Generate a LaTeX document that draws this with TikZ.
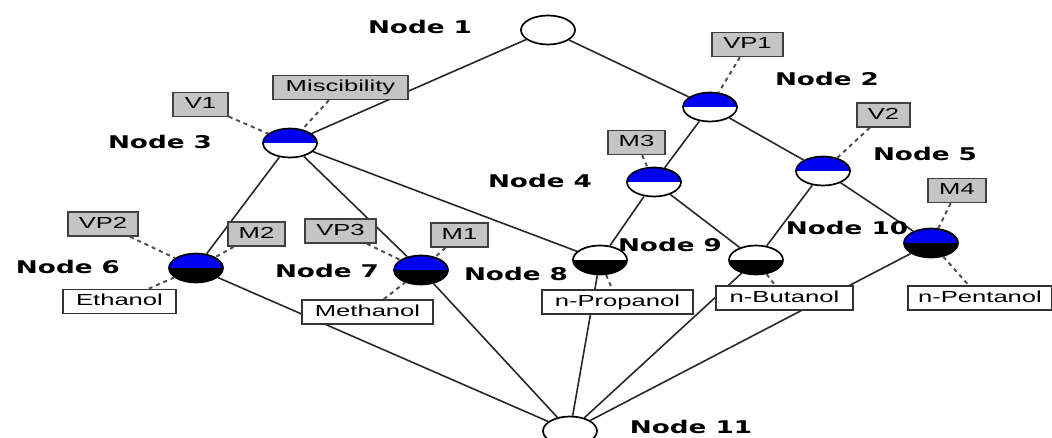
\documentclass[tikz,border=0pt]{standalone}
\usepackage{graphicx}
\usepackage{fontspec}
\setmainfont{Liberation Sans}
\newfontfamily\lblfont{DejaVu Sans}
\usetikzlibrary{shapes.geometric}
\definecolor{nblue}{RGB}{0,0,240}
\definecolor{boxgray}{RGB}{196,196,196}
\definecolor{edgecol}{RGB}{40,40,40}
\definecolor{dashcol}{RGB}{80,80,80}
\newcommand\nlab[1]{\scalebox{1.5}[1]{\lblfont\bfseries\fontsize{17.5}{20}\selectfont #1}}
\newcommand\btxt[1]{\scalebox{1.6}[1]{\fontsize{16}{19}\selectfont #1}}
\tikzset{
  halfnode/.style 2 args={ellipse, draw=black, line width=1.7pt,
    minimum width=54pt, minimum height=29pt, inner sep=0pt,
    path picture={
      \fill[#1] (path picture bounding box.north west) rectangle (path picture bounding box.east);
      \fill[#2] (path picture bounding box.west) rectangle (path picture bounding box.south east);
    }},
  plainnode/.style={ellipse, draw=black, line width=1.7pt, fill=white,
    minimum width=54pt, minimum height=29pt, inner sep=0pt},
  edge/.style={draw=edgecol, line width=1.6pt},
  dashlink/.style={draw=dashcol, line width=2pt, dash pattern=on 4pt off 4pt},
  graybox/.style={draw=black!75, line width=1.6pt, fill=boxgray, inner xsep=0pt, inner ysep=0pt,
    minimum height=24pt, text height=11.5pt, text depth=3pt},
  whitebox/.style={draw=black!80, line width=1.6pt, fill=white, inner xsep=0pt, inner ysep=0pt,
    minimum height=24pt, text height=11.5pt, text depth=3pt},
  nodelabel/.style={inner sep=0pt}
}
\begin{document}
\begin{tikzpicture}[x=1pt,y=-1pt]
\useasboundingbox (0,0) rectangle (1052,438);
\clip (0,0) rectangle (1052,438);
\fill[white] (0,0) rectangle (1052,438);
% lattice nodes
\node[plainnode] (n1) at (548,30) {};
\node[halfnode={nblue}{white}] (n2) at (710,107) {};
\node[halfnode={nblue}{white}] (n3) at (290,143) {};
\node[halfnode={nblue}{white}] (n4) at (654,182) {};
\node[halfnode={nblue}{white}] (n5) at (823,171) {};
\node[halfnode={nblue}{black}] (n6) at (196,268) {};
\node[halfnode={nblue}{black}] (n7) at (421,270) {};
\node[halfnode={white}{black}] (n8) at (600,260) {};
\node[halfnode={white}{black}] (n9) at (756,260) {};
\node[halfnode={nblue}{black}] (n10) at (931,243) {};
\node[plainnode] (n11) at (570,431) {};
% solid edges
\draw[edge] (n1) -- (n3);
\draw[edge] (n1) -- (n2);
\draw[edge] (n2) -- (n4);
\draw[edge] (n2) -- (n5);
\draw[edge] (n3) -- (n6);
\draw[edge] (n3) -- (n7);
\draw[edge] (n3) -- (n8);
\draw[edge] (n4) -- (n8);
\draw[edge] (n4) -- (n9);
\draw[edge] (n5) -- (n9);
\draw[edge] (n5) -- (n10);
\draw[edge] (n6) -- (n11);
\draw[edge] (n7) -- (n11);
\draw[edge] (n8) -- (n11);
\draw[edge] (n9) -- (n11);
\draw[edge] (n10) -- (n11);
% gray attribute boxes
\node[graybox, minimum width=135pt] (misc) at (340.5,87.5) {\btxt{Miscibility}};
\node[graybox, minimum width=71pt] (vp1) at (747.5,44.5) {\btxt{VP1}};
\node[graybox, minimum width=53pt] (v2) at (883.5,115) {\btxt{V2}};
\node[graybox, minimum width=57pt] (m3) at (636.5,142.5) {\btxt{M3}};
\node[graybox, minimum width=58pt] (m4) at (957,190.5) {\btxt{M4}};
\node[graybox, minimum width=55pt] (v1) at (200.5,104.5) {\btxt{V1}};
\node[graybox, minimum width=70pt] (vp2) at (103,224) {\btxt{VP2}};
\node[graybox, minimum width=57pt] (m2) at (256.5,234) {\btxt{M2}};
\node[graybox, minimum width=71pt] (vp3) at (340.5,231) {\btxt{VP3}};
\node[graybox, minimum width=57pt] (m1) at (459.5,235) {\btxt{M1}};
% white object boxes
\node[whitebox, minimum width=113pt] (eth) at (119.5,301.5) {\btxt{Ethanol}};
\node[whitebox, minimum width=131pt] (meth) at (367.5,312) {\btxt{Methanol}};
\node[whitebox, minimum width=151pt] (prop) at (617.5,302) {\btxt{n-Propanol}};
\node[whitebox, minimum width=137pt] (but) at (784.5,298) {\btxt{n-Butanol}};
\node[whitebox, minimum width=144pt] (pent) at (980,298) {\btxt{n-Pentanol}};
% dashed label links
\draw[dashlink] (misc) -- (n3);
\draw[dashlink] (v1) -- (n3);
\draw[dashlink] (vp1) -- (n2);
\draw[dashlink] (v2) -- (n5);
\draw[dashlink] (m3) -- (n4);
\draw[dashlink] (m4) -- (n10);
\draw[dashlink] (vp2) -- (n6);
\draw[dashlink] (m2) -- (n6);
\draw[dashlink] (eth) -- (n6);
\draw[dashlink] (vp3) -- (n7);
\draw[dashlink] (m1) -- (n7);
\draw[dashlink] (meth) -- (n7);
\draw[dashlink] (n8) -- (prop);
\draw[dashlink] (n9) -- (but);
\draw[dashlink] (n10) -- (pent);
% node labels
\node[nodelabel] (l1) at (420,27) {\nlab{Node 1}};
\node[nodelabel] (l2) at (827,79) {\nlab{Node 2}};
\node[nodelabel] (l3) at (160,142) {\nlab{Node 3}};
\node[nodelabel] (l4) at (540,181) {\nlab{Node 4}};
\node[nodelabel] (l5) at (925,154) {\nlab{Node 5}};
\node[nodelabel] (l6) at (68,267) {\nlab{Node 6}};
\node[nodelabel] (l7) at (327,271) {\nlab{Node 7}};
\node[nodelabel] (l8) at (516,274) {\nlab{Node 8}};
\node[nodelabel] (l9) at (670,245) {\nlab{Node 9}};
\node[nodelabel] (l10) at (847,228) {\nlab{Node 10}};
\node[nodelabel] (l11) at (691,427) {\nlab{Node 11}};
\end{tikzpicture}
\end{document}
